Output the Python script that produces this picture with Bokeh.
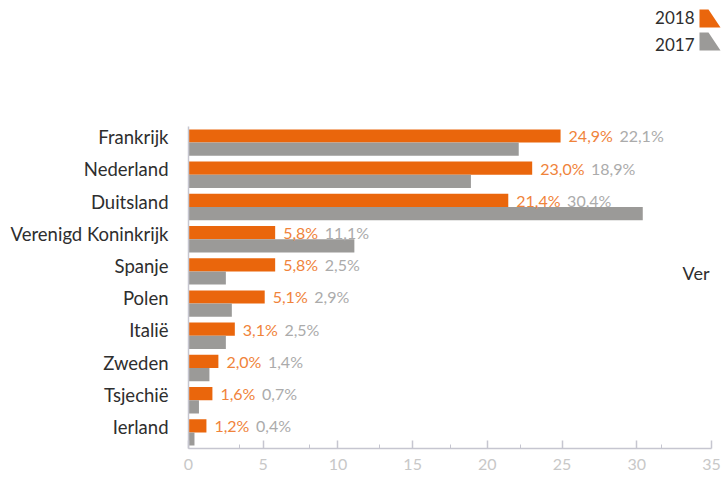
from bokeh.plotting import figure
from bokeh.layouts import column, row
from bokeh.models import ColumnDataSource, FactorRange, Range1d, FixedTicker, Label
from bokeh.transform import dodge
from bokeh.embed import file_html
from bokeh.resources import INLINE
from bokeh.core.properties import value

# ---- data ----
countries = ["Frankrijk", "Nederland", "Duitsland", "Verenigd Koninkrijk", "Spanje",
             "Polen", "Italië", "Zweden", "Tsjechië", "Ierland"]
share_2018 = [24.9, 23.0, 21.4, 5.8, 5.8, 5.1, 3.1, 2.0, 1.6, 1.2]
share_2017 = [22.1, 18.9, 30.4, 11.1, 2.5, 2.9, 2.5, 1.4, 0.7, 0.4]
series_names = ["2018", "2017"]
x_ticks = [0, 5, 10, 15, 20, 25, 30, 35]
x_minor_ticks = [3.42, 8.11, 12.81, 17.50, 22.19, 31.65]
side_text = "Ver"

FONT = "Lato"
ORANGE = "#EA660C"
ORANGE_TXT = "#F0833A"
GREY = "#9B9A98"
GREY_TXT = "#ABABAB"
AXIS = "#C6C6D0"
DARK = "#2E2E2E"
W = 722
TOP_H = 120
LEFT_W = 180
MAIN_H = 478 - TOP_H
BORDER_TOP = 6
BORDER_BOTTOM = 30


def fmt(v):
    return f"{v:.1f}".replace(".", ",") + "%"


CHAR_EM = {",": 0.23, "%": 0.77, " ": 0.26}


def text_width(s, size):
    return sum(CHAR_EM.get(c, 0.58) for c in s) * size


LABEL_SIZE = 16
lab18 = [fmt(v) for v in share_2018]
lab17 = [fmt(v) for v in share_2017]
off17 = [8 + text_width(t, LABEL_SIZE) + 7 for t in lab18]

src = ColumnDataSource(dict(country=countries, v18=share_2018, v17=share_2017,
                            lab18=lab18, lab17=lab17, off17=off17))

y_range = FactorRange(factors=countries[::-1], range_padding=0)

# ---- legend strip (pixel coordinates) ----
lg = figure(width=W, height=TOP_H, output_backend="svg", toolbar_location=None,
            x_range=Range1d(0, W), y_range=Range1d(TOP_H, 0),
            min_border_left=0, min_border_right=0, min_border_top=0, min_border_bottom=0)
lg.axis.visible = False
lg.grid.visible = False
lg.outline_line_color = None
leg_src = ColumnDataSource(dict(
    name=series_names,
    tx=[694, 694], ty=[17, 44],
    xs=[[699, 708, 720, 699], [699, 708, 720, 699]],
    ys=[[9, 9, 27, 27], [32, 32, 50, 50]],
    col=[ORANGE, GREY]))
lg.patches(xs="xs", ys="ys", fill_color="col", line_color=None, source=leg_src)
lg.text(x="tx", y="ty", text="name", source=leg_src, text_align="right",
        text_baseline="middle", text_color=DARK, text_font=value(FONT),
        text_font_size="17px")

# ---- category label column ----
lf = figure(width=LEFT_W, height=MAIN_H, output_backend="svg", toolbar_location=None,
            x_range=Range1d(0, LEFT_W), y_range=y_range,
            min_border_left=0, min_border_right=0,
            min_border_top=BORDER_TOP, min_border_bottom=BORDER_BOTTOM)
lf.axis.visible = False
lf.grid.visible = False
lf.outline_line_color = None
lf.text(x=LEFT_W - 12, y=dodge("country", 0.17, range=y_range), text="country", source=src,
        text_align="right", text_baseline="middle", text_color=DARK,
        text_font=value(FONT), text_font_size="18.5px")

# ---- main chart ----
p = figure(width=W - LEFT_W, height=MAIN_H, output_backend="svg", toolbar_location=None,
           y_range=y_range, x_range=Range1d(0, 35),
           min_border_left=8, min_border_right=11,
           min_border_top=BORDER_TOP, min_border_bottom=BORDER_BOTTOM)
p.outline_line_color = None
p.xgrid.visible = False
p.ygrid.visible = False

bh = 0.41
p.hbar(y=dodge("country", bh / 2, range=y_range), right="v18", left=0, height=bh,
       source=src, color=ORANGE, line_color=None)
p.hbar(y=dodge("country", -bh / 2, range=y_range), right="v17", left=0, height=bh,
       source=src, color=GREY, line_color=None)

p.text(x="v18", y=dodge("country", bh / 2, range=y_range), text="lab18", source=src,
       x_offset=8, text_baseline="middle", text_align="left", text_color=ORANGE_TXT,
       text_font=value(FONT), text_font_size=f"{LABEL_SIZE}px")
p.text(x="v18", y=dodge("country", bh / 2, range=y_range), text="lab17", source=src,
       x_offset="off17", text_baseline="middle", text_align="left", text_color=GREY_TXT,
       text_font=value(FONT), text_font_size=f"{LABEL_SIZE}px")

# x axis
xa = p.xaxis[0]
xa.ticker = FixedTicker(ticks=x_ticks, minor_ticks=x_minor_ticks)
xa.axis_line_color = AXIS
xa.axis_line_width = 1.5
xa.major_tick_line_color = AXIS
xa.major_tick_line_width = 1.5
xa.major_tick_in = 8
xa.major_tick_out = 0
xa.minor_tick_line_color = AXIS
xa.minor_tick_in = 4
xa.minor_tick_out = 0
xa.major_label_text_color = "#C8C8C8"
xa.major_label_text_font = FONT
xa.major_label_text_font_size = "16px"
xa.major_label_standoff = 10

# y axis: only the line (labels are drawn in the left column)
ya = p.yaxis[0]
ya.axis_line_color = AXIS
ya.axis_line_width = 1.5
ya.major_tick_line_color = None
ya.minor_tick_line_color = None
ya.major_tick_in = 0
ya.major_tick_out = 0
ya.major_label_standoff = 0
ya.major_label_text_font_size = "0px"
ya.major_label_text_color = None

p.add_layout(Label(x=W - LEFT_W - 13, y=272 - TOP_H, x_units="canvas", y_units="canvas",
                   text=side_text, text_align="right", text_baseline="middle",
                   text_color=DARK, text_font=FONT, text_font_size="18px"))

layout = column(lg, row(lf, p, spacing=0), spacing=0)
open("out.html", "w").write(file_html(layout, INLINE))
